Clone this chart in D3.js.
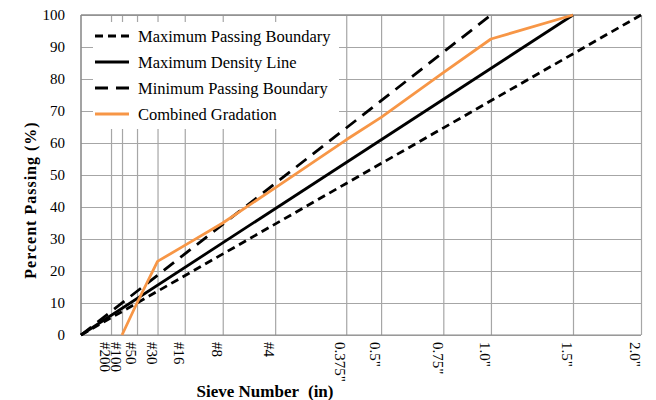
<!DOCTYPE html>
<html>
<head>
<meta charset="utf-8">
<script src="https://cdn.jsdelivr.net/npm/d3@7"></script>
<style>
  html, body { margin: 0; padding: 0; background: #fff; }
  svg { display: block; }
  text { font-family: "Liberation Serif", "Times New Roman", serif; fill: #000; }
</style>
</head>
<body>
<svg id="chart" width="656" height="400"></svg>
<script>
// Sieve sizes (mm) and their labels
const sieveLabels = ["#200", "#100", "#50", "#30", "#16", "#8", "#4", "0.375\"", "0.5\"", "0.75\"", "1.0\"", "1.5\"", "2.0\""];
const sieveSizes = [0.075, 0.15, 0.3, 0.6, 1.18, 2.36, 4.75, 9.5, 12.5, 19, 25, 37.5, 50];

// Reference lines on the 0.45 power chart: start and end points (size mm, % passing)
const maxPassingSizes = [0, 50];
const maxPassingPct = [0, 100];
const maxDensitySizes = [0, 37.5];
const maxDensityPct = [0, 100];
const minPassingSizes = [0, 25];
const minPassingPct = [0, 100];

// Combined gradation, % passing per sieve (#100 up to 1.5")
const combinedSizes = [0.15, 0.3, 0.6, 1.18, 2.36, 4.75, 9.5, 12.5, 19, 25, 37.5];
const combinedPct = [0, 10, 23, 28, 35, 46, 61, 68, 82, 92.5, 100];

const yTicks = [0, 10, 20, 30, 40, 50, 60, 70, 80, 90, 100];

const svg = d3.select("#chart");
const plotLeft = 81, plotRight = 641, plotTop = 15, plotBottom = 335;

const x = d3.scalePow().exponent(0.45).domain([0, 50]).range([plotLeft, plotRight]);
const y = d3.scaleLinear().domain([0, 100]).range([plotBottom, plotTop]);

const gridColor = "#a6a6a6";

// horizontal gridlines
const gy = svg.append("g")
  .attr("transform", `translate(${plotLeft},0)`)
  .call(d3.axisLeft(y).tickValues(yTicks).tickSize(-(plotRight - plotLeft)).tickFormat(""));
gy.select(".domain").remove();
gy.selectAll("line").attr("stroke", gridColor).attr("stroke-width", 1.2);

// vertical gridlines at each sieve
const gx = svg.append("g")
  .attr("transform", `translate(0,${plotBottom})`)
  .call(d3.axisBottom(x).tickValues(sieveSizes).tickSize(-(plotBottom - plotTop)).tickFormat(""));
gx.select(".domain").remove();
gx.selectAll("line").attr("stroke", gridColor).attr("stroke-width", 1.2);

// frame lines
svg.append("line").attr("x1", plotLeft).attr("x2", plotRight).attr("y1", plotTop).attr("y2", plotTop)
  .attr("stroke", "#8c8c8c").attr("stroke-width", 1.6);
svg.append("line").attr("x1", plotLeft).attr("x2", plotLeft).attr("y1", plotTop).attr("y2", plotBottom)
  .attr("stroke", "#8c8c8c").attr("stroke-width", 1.6);
svg.append("line").attr("x1", plotLeft).attr("x2", plotRight).attr("y1", plotBottom).attr("y2", plotBottom)
  .attr("stroke", "#8c8c8c").attr("stroke-width", 1.2);

// y tick labels
const yAxis = svg.append("g")
  .attr("transform", `translate(${plotLeft},0)`)
  .call(d3.axisLeft(y).tickValues(yTicks).tickSize(0).tickPadding(16));
yAxis.select(".domain").remove();
yAxis.selectAll("text")
  .style("font-family", "'Liberation Serif', serif")
  .style("font-size", "15px")
  .attr("fill", "#000");

// x tick labels, rotated
const xAxis = svg.append("g")
  .attr("transform", `translate(0,${plotBottom})`)
  .call(d3.axisBottom(x).tickValues(sieveSizes).tickSize(0)
    .tickFormat((d, i) => sieveLabels[i]));
xAxis.select(".domain").remove();
xAxis.selectAll("text")
  .style("font-family", "'Liberation Serif', serif")
  .style("font-size", "15px")
  .attr("fill", "#000")
  .attr("text-anchor", "start")
  .attr("dy", "0.35em")
  .attr("y", 0)
  .attr("transform", "translate(-6,7) rotate(90)");

// axis titles
const xTitle = svg.append("text")
  .attr("x", 265).attr("y", 397)
  .attr("text-anchor", "middle")
  .style("font-size", "17px").style("font-weight", "bold");
xTitle.append("tspan").text("Sieve Number");
xTitle.append("tspan").attr("dx", 9).text("(in)");
svg.append("text")
  .attr("transform", "translate(36,200) rotate(-90)")
  .attr("text-anchor", "middle")
  .style("font-size", "16px").style("font-weight", "bold")
  .style("letter-spacing", "1px")
  .text("Percent Passing (%)");

// legend
const legendItems = [
  { name: "Maximum Passing Boundary", color: "#000", width: 2.8, dash: "8,5" },
  { name: "Maximum Density Line", color: "#000", width: 2.8, dash: null },
  { name: "Minimum Passing Boundary", color: "#000", width: 2.8, dash: "13,8" },
  { name: "Combined Gradation", color: "#f79646", width: 2.8, dash: null }
];
svg.append("rect").attr("x", 93).attr("y", 22).attr("width", 246).attr("height", 107).attr("fill", "#fff");
const lg = svg.append("g");
legendItems.forEach((d, i) => {
  const cy = 36 + i * 26;
  lg.append("line").attr("x1", 95).attr("x2", 129).attr("y1", cy).attr("y2", cy)
    .attr("stroke", d.color).attr("stroke-width", d.width)
    .attr("stroke-dasharray", d.dash);
  lg.append("text").attr("x", 138).attr("y", cy).attr("dy", "0.35em")
    .style("font-size", "16.5px").text(d.name);
});

// series lines
const line = d3.line().x(d => x(d[0])).y(d => y(d[1]));
const zip = (a, b) => a.map((v, i) => [v, b[i]]);

const series = [
  { pts: zip(maxPassingSizes, maxPassingPct), color: "#000", dash: "8,5" },
  { pts: zip(minPassingSizes, minPassingPct), color: "#000", dash: "13,8" },
  { pts: zip(maxDensitySizes, maxDensityPct), color: "#000", dash: null },
  { pts: zip(combinedSizes, combinedPct), color: "#f79646", dash: null }
];
series.forEach(s => {
  svg.append("path").datum(s.pts)
    .attr("d", line)
    .attr("fill", "none")
    .attr("stroke", s.color)
    .attr("stroke-width", 2.8)
    .attr("stroke-linejoin", "round")
    .attr("stroke-dasharray", s.dash);
});
</script>
</body>
</html>
